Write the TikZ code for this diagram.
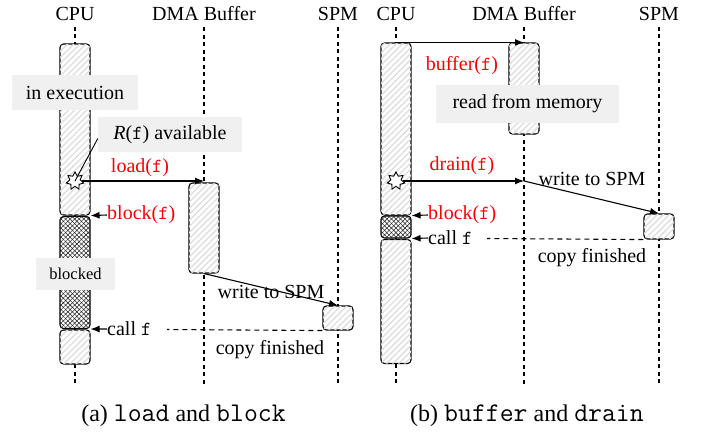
\documentclass[tikz,border=0pt]{standalone}
\usepackage{fontspec}
\setmainfont{Liberation Serif}
\newfontfamily\capfont{Liberation Serif}
\usetikzlibrary{arrows.meta,patterns.meta,shapes.geometric,calc}

% monospace name inside the captions
\newcommand{\capcode}[1]{{\ttfamily\fontsize{27}{30}\selectfont #1}}

\tikzset{
  lbl/.style={font=\fontsize{20}{23}\selectfont, inner sep=0pt},
  redlbl/.style={lbl, text=red},
  note/.style={lbl, fill=gray!12},
  caption/.style={font=\capfont\fontsize{24}{28}\selectfont, inner sep=0pt},
  lifeline/.style={line width=1.1pt, dash pattern=on 4pt off 3.5pt},
  bar/.style={draw, line width=1.1pt, rounded corners=3.5pt, fill=white,
    minimum width=30pt, inner sep=0pt,
    postaction={pattern={Lines[angle=45,distance=4.3pt,line width=1.4pt]}, pattern color=gray!25}},
  blockbar/.style={draw, line width=1.1pt, rounded corners=3.5pt, fill=white,
    minimum width=30pt, inner sep=0pt,
    postaction={pattern={Lines[angle=45,distance=3.2pt,line width=0.55pt]}, pattern color=black!85},
    postaction={pattern={Lines[angle=-45,distance=3.2pt,line width=0.55pt]}, pattern color=black!85}},
  msg/.style={line width=1.1pt, -{Latex[length=9pt,width=7pt]}},
  copyline/.style={line width=1.1pt, dash pattern=on 5pt off 4pt},
  burst/.style={star, star points=7, star point ratio=1.7, minimum size=18pt,
    inner sep=0pt, draw, line width=0.9pt, fill=white},
}

\begin{document}
\begin{tikzpicture}[x=1pt,y=-1pt]
\useasboundingbox (0,0) rectangle (706,434);

% ---------- (a) load and block ----------
\node[lbl] (hCpuA) at (75,14) {CPU};
\node[lbl] (hDmaA) at (204,14) {DMA Buffer};
\node[lbl] (hSpmA) at (338,14) {SPM};
\coordinate (eCpuA) at (75,386);
\coordinate (eDmaA) at (204,386);
\coordinate (eSpmA) at (338,386);
\draw[lifeline] ([yshift=-6pt]hCpuA.south) -- (eCpuA);
\draw[lifeline] ([yshift=-6pt]hDmaA.south) -- (eDmaA);
\draw[lifeline] ([yshift=-6pt]hSpmA.south) -- (eSpmA);

\node[bar, minimum height=171pt] (cpuA1) at (75,129.5) {};
\node[blockbar, minimum height=112pt] (cpuA2) at (75,272.5) {};
\node[bar, minimum height=34pt] (cpuA3) at (75,347) {};
\node[bar, minimum height=90pt] (dmaA) at (204,228) {};
\node[bar, minimum height=24pt] (spmA) at (338,318) {};

\node[note, minimum width=126pt, minimum height=35pt] (execA) at (75,92.5) {in execution};
\node[note, minimum width=144pt, minimum height=35pt] (availA) at (170,134.5) {\textit{R}(\texttt{f}) available};
\node[note, minimum width=79pt, minimum height=32pt, font=\fontsize{16.5}{18}\selectfont] (blockedA) at (75.5,274) {blocked};

\node[burst] (starA) at (75,181) {};
\draw[line width=0.9pt] (starA.center) -- ([yshift=-4pt]availA.west);

\draw[msg] (starA.east) -- (starA.east -| dmaA.north);
\node[redlbl] (loadA) at (140,168) {load(\texttt{f})};
\node[redlbl, anchor=west] (blkA) at (107,215) {block(\texttt{f})};
\draw[msg] (blkA.west) -- (cpuA1.south east);
\node[lbl, anchor=west] (callA) at (107,329) {call \texttt{f}};
\draw[msg] (callA.west) -- (cpuA2.south east);
\coordinate (cfA) at (167,329.5);
\draw[copyline] (spmA.south west) -- (cfA);
\draw[msg] (dmaA.south) -- (spmA.north);
\node[lbl] (wrA) at (271,292) {write to SPM};
\node[lbl] (cpA) at (270,350) {copy finished};

\node[caption] (capA) at (183.5,416) {(a) \capcode{load} and \capcode{block}};

% ---------- (b) buffer and drain ----------
\node[lbl] (hCpuB) at (396,14) {CPU};
\node[lbl] (hDmaB) at (524,14) {DMA Buffer};
\node[lbl] (hSpmB) at (659,14) {SPM};
\coordinate (eCpuB) at (396,386);
\coordinate (eDmaB) at (524,386);
\coordinate (eSpmB) at (659,386);
\draw[lifeline] ([yshift=-6pt]hCpuB.south) -- (eCpuB);
\draw[lifeline] ([yshift=-6pt]hDmaB.south) -- (eDmaB);
\draw[lifeline] ([yshift=-6pt]hSpmB.south) -- (eSpmB);

\node[bar, minimum height=172pt] (cpuB1) at (396,129) {};
\node[blockbar, minimum height=22pt] (cpuB2) at (396,227) {};
\node[bar, minimum height=124pt] (cpuB3) at (396,301.5) {};
\node[bar, minimum height=91pt] (dmaB) at (524,88.5) {};
\node[bar, minimum height=25pt] (spmB) at (659,226.5) {};

\node[note, minimum width=183pt, minimum height=38pt] (readB) at (527.5,104) {read from memory};

\draw[msg] (cpuB1.north) -- (dmaB.north);
\node[redlbl] (bufB) at (462,66) {buffer(\texttt{f})};

\node[burst] (starB) at (396,181) {};
\coordinate (drB) at (524,181);
\draw[msg] (starB.east) -- (drB);
\node[redlbl] (drainB) at (462,166) {drain(\texttt{f})};
\draw[msg] (drB) -- (spmB.north);
\node[lbl] (wrB) at (592,179) {write to SPM};

\node[redlbl, anchor=west] (blkB) at (428,215) {block(\texttt{f})};
\draw[msg] (blkB.west) -- (cpuB1.south east);
\node[lbl, anchor=west] (callB) at (428,238) {call \texttt{f}};
\draw[msg] (callB.west) -- (cpuB2.south east);
\coordinate (cfB) at (487,238.5);
\draw[copyline] (spmB.south west) -- (cfB);
\node[lbl] (cpB) at (592,258) {copy finished};

\node[caption] (capB) at (527,416) {(b) \capcode{buffer} and \capcode{drain}};
\end{tikzpicture}
\end{document}
